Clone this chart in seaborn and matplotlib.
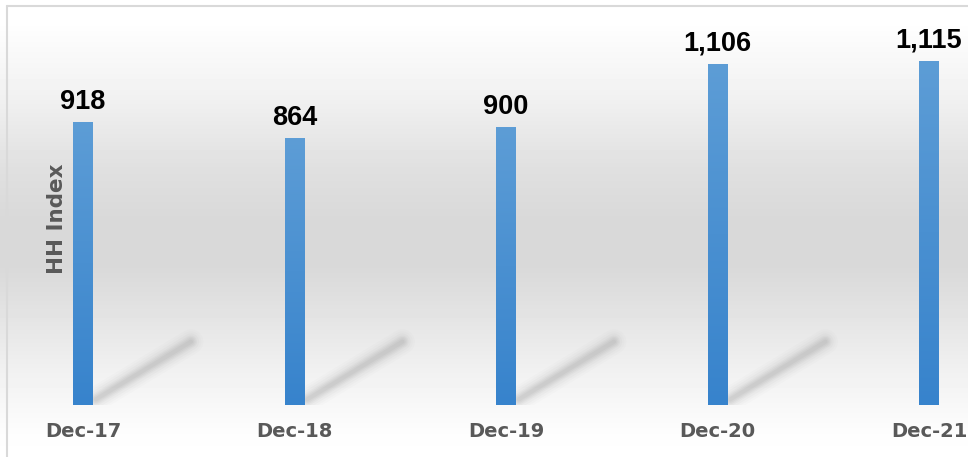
import numpy as np
import pandas as pd
import matplotlib
matplotlib.use("Agg")
import matplotlib.pyplot as plt
from matplotlib.lines import Line2D
from matplotlib.colors import to_rgb
import seaborn as sns

# HH Index by period
periods = ["Dec-17", "Dec-18", "Dec-19", "Dec-20", "Dec-21"]
hh_values = [918, 864, 900, 1106, 1115]

df = pd.DataFrame({"period": periods, "hh": hh_values})

sns.set_theme(style="white")
plt.rcParams["font.family"] = ["DejaVu Sans"]

W, H = 968, 457
fig = plt.figure(figsize=(W / 100, H / 100), dpi=100)

# soft vertical grey band behind the chart
bg = fig.add_axes([0, 0, 1, 1], zorder=0)
bg.set_axis_off()
stops_y = np.array([0, 20, 100, 167, 217, 267, 300, 367, 433, 457])
stops_v = np.array([255, 255, 240, 224, 217, 217, 224, 240, 253, 255]) / 255
rows = np.interp(np.arange(H), stops_y, stops_v)
bg.imshow(np.repeat(rows[:, None], 2, axis=1), cmap="gray", vmin=0, vmax=1,
          aspect="auto", extent=[0, 1, 0, 1], origin="upper")
bg.set_xlim(0, 1)
bg.set_ylim(0, 1)

# main axes: bar baseline at y=405 px, category spacing ~211.5 px
ax_bottom = 1 - 405 / H
ax_top = 1 - 5 / H
ax = fig.add_axes([0, ax_bottom, 1, ax_top - ax_bottom], zorder=2)
ax.patch.set_alpha(0)

sns.barplot(data=df, x="period", y="hh", color="#4a90d0", width=0.09,
            saturation=1, ax=ax, zorder=3)

px_per_unit = 211.5
ax.set_xlim(-83 / px_per_unit, (W - 83) / px_per_unit)
ax.set_ylim(0, 400 / 0.3086)

# vertical blue gradient inside each bar
top_c = np.array(to_rgb("#5d9dd6"))
bot_c = np.array(to_rgb("#3783cc"))
grad = np.linspace(0, 1, 256)[:, None]
grad_img = (top_c[None, None, :] * (1 - grad[..., None]) + bot_c[None, None, :] * grad[..., None])
for p in ax.patches:
    x0, w, h = p.get_x(), p.get_width(), p.get_height()
    p.set_facecolor("none")
    p.set_edgecolor("none")
    im = ax.imshow(grad_img, extent=[x0, x0 + w, 0, h], aspect="auto",
                   origin="upper", zorder=3)
    im.set_clip_path(p)

# blurred diagonal shadow trailing behind the first four bars
for i, p in enumerate(ax.patches[:4]):
    x0 = p.get_x() + p.get_width() + 0.015
    xs = [x0, x0 + 0.45]
    ys = [18, 205]
    for lw, a in [(18, 0.02), (15, 0.025), (12, 0.035), (9, 0.045), (7, 0.05),
                  (5, 0.055), (3, 0.06)]:
        ax.plot(xs, ys, color="#6a6a6a", lw=lw, alpha=a, solid_capstyle="round",
                zorder=2)

# value labels above bars
for p, v in zip(ax.patches, hh_values):
    ax.annotate(f"{v:,}", xy=(p.get_x() + p.get_width() / 2, v),
                xytext=(0, 9.5), textcoords="offset points",
                ha="center", va="baseline", fontsize=19.5, fontweight="bold",
                color="black", family=["Liberation Sans"], zorder=4)

ax.set_xlabel("")
ax.set_ylabel("")
ax.set_yticks([])
ax.tick_params(axis="x", length=0, pad=12.5, labelsize=14, labelcolor="#595959")
for lab in ax.get_xticklabels():
    lab.set_fontweight("bold")
for s in ax.spines.values():
    s.set_visible(False)
ax.grid(False)

fig.text(57 / W, 1 - 219 / H, "HH Index", rotation=90, ha="center", va="center",
         fontsize=15.5, fontweight="bold", color="#595959")

# thin outer frame along the top and left edges
frame_c = "#d9d9d9"
fig.add_artist(Line2D([7 / W, 7 / W], [0, 1 - 5.5 / H], transform=fig.transFigure,
                      color=frame_c, lw=1.5, zorder=5))
fig.add_artist(Line2D([7 / W, 1], [1 - 5.5 / H, 1 - 5.5 / H], transform=fig.transFigure,
                      color=frame_c, lw=1.5, zorder=5))

fig.savefig("out.png", dpi=100)
